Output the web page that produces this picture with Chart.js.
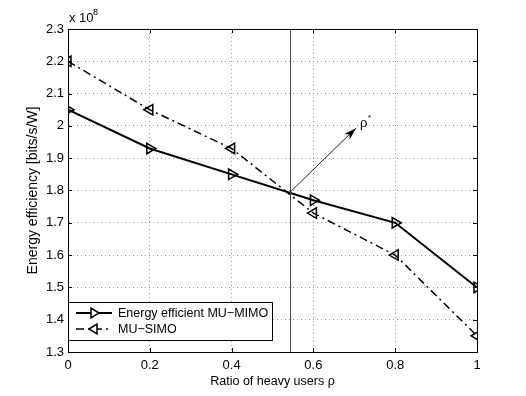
<!DOCTYPE html>
<html>
<head>
<meta charset="utf-8">
<script src="https://cdn.jsdelivr.net/npm/chart.js@4/dist/chart.umd.min.js"></script>
<style>
  html, body { margin: 0; padding: 0; background: #fff; }
  #wrap { width: 526px; height: 396px; position: relative; }
  canvas { display: block; }
</style>
</head>
<body>
<div id="wrap"><canvas id="c" width="526" height="396"></canvas></div>
<script>
// ratio of heavy users
const ratios = [0, 0.2, 0.4, 0.6, 0.8, 1];
// energy efficiency, units of 1e8 bits/s/W
const muMimo = [2.05, 1.93, 1.85, 1.77, 1.70, 1.50];
const muSimo = [2.20, 2.05, 1.93, 1.73, 1.60, 1.35];
const xTicks = [0, 0.2, 0.4, 0.6, 0.8, 1];
const yTicks = [1.3, 1.4, 1.5, 1.6, 1.7, 1.8, 1.9, 2, 2.1, 2.2, 2.3];
// crossing point and arrow
const rhoStar = 0.543;
const arrowFrom = { x: 0.543, y: 1.795 };
const arrowTo = { x: 0.704, y: 1.993 };

const FONT = '"Liberation Sans", Arial, Helvetica, sans-serif';

function fmt(v) {
  return String(Math.round(v * 10) / 10);
}

// box, inner ticks, rho* line and arrow, legend, exponent label
const decor = {
  id: 'decor',
  afterDatasetsDraw(chart) {
    const { ctx, chartArea: a, scales: { x, y } } = chart;
    ctx.save();

    // vertical line at rho*
    const vx = Math.round(x.getPixelForValue(rhoStar)) + 0.5;
    ctx.strokeStyle = '#444';
    ctx.lineWidth = 1;
    ctx.beginPath();
    ctx.moveTo(vx, a.top);
    ctx.lineTo(vx, a.bottom);
    ctx.stroke();

    // arrow
    const x1 = x.getPixelForValue(arrowFrom.x), y1 = y.getPixelForValue(arrowFrom.y);
    const x2 = x.getPixelForValue(arrowTo.x), y2 = y.getPixelForValue(arrowTo.y);
    ctx.strokeStyle = '#222';
    ctx.beginPath();
    ctx.moveTo(x1, y1);
    ctx.lineTo(x2, y2);
    ctx.stroke();
    const ang = Math.atan2(y2 - y1, x2 - x1);
    ctx.fillStyle = '#000';
    ctx.beginPath();
    ctx.moveTo(x2, y2);
    ctx.lineTo(x2 - 13 * Math.cos(ang - 0.3), y2 - 13 * Math.sin(ang - 0.3));
    ctx.lineTo(x2 - 9 * Math.cos(ang), y2 - 9 * Math.sin(ang));
    ctx.lineTo(x2 - 13 * Math.cos(ang + 0.3), y2 - 13 * Math.sin(ang + 0.3));
    ctx.closePath();
    ctx.fill();

    // rho* label
    ctx.fillStyle = '#000';
    ctx.font = '13px ' + FONT;
    ctx.textBaseline = 'alphabetic';
    ctx.textAlign = 'left';
    ctx.fillText('ρ', x2 + 4, y2 - 1);
    ctx.font = '8px ' + FONT;
    ctx.fillText('*', x2 + 12, y2 - 8);

    // inner tick marks
    ctx.strokeStyle = '#000';
    ctx.lineWidth = 1;
    ctx.beginPath();
    xTicks.forEach(v => {
      const px = Math.round(x.getPixelForValue(v)) + 0.5;
      ctx.moveTo(px, a.bottom); ctx.lineTo(px, a.bottom - 4);
      ctx.moveTo(px, a.top); ctx.lineTo(px, a.top + 4);
    });
    yTicks.forEach(v => {
      const py = Math.round(y.getPixelForValue(v)) + 0.5;
      ctx.moveTo(a.left, py); ctx.lineTo(a.left + 4, py);
      ctx.moveTo(a.right, py); ctx.lineTo(a.right - 4, py);
    });
    ctx.stroke();

    // box
    ctx.lineWidth = 1;
    ctx.strokeRect(Math.round(a.left) + 0.5, Math.round(a.top) + 0.5,
      Math.round(a.right - a.left), Math.round(a.bottom - a.top));

    // exponent
    ctx.font = '13px ' + FONT;
    ctx.fillText('x 10', a.left + 1, a.top - 7);
    ctx.font = '9px ' + FONT;
    ctx.fillText('8', a.left + 25, a.top - 14);

    // legend
    const lx = a.left, ly = 302, lw = 204, lh = 38;
    ctx.fillStyle = '#fff';
    ctx.fillRect(lx, ly, lw, lh);
    ctx.strokeStyle = '#000';
    ctx.strokeRect(lx + 0.5, ly + 0.5, lw, lh);
    const rows = [
      { text: 'Energy efficient MU\u2212MIMO', ds: chart.data.datasets[0], ry: ly + 11 },
      { text: 'MU\u2212SIMO', ds: chart.data.datasets[1], ry: ly + 27 }
    ];
    rows.forEach(r => {
      ctx.save();
      ctx.strokeStyle = '#000';
      ctx.lineWidth = r.ds.borderWidth;
      ctx.setLineDash(r.ds.borderDash || []);
      ctx.beginPath();
      ctx.moveTo(lx + 8, r.ry);
      ctx.lineTo(lx + 44, r.ry);
      ctx.stroke();
      ctx.setLineDash([]);
      ctx.lineWidth = 1.5;
      const cx = lx + 26, s = 5;
      ctx.beginPath();
      if (r.ds.pointRotation === 90) {
        ctx.moveTo(cx + s, r.ry); ctx.lineTo(cx - s * 0.6, r.ry - s); ctx.lineTo(cx - s * 0.6, r.ry + s);
      } else {
        ctx.moveTo(cx - s, r.ry); ctx.lineTo(cx + s * 0.6, r.ry - s); ctx.lineTo(cx + s * 0.6, r.ry + s);
      }
      ctx.closePath();
      ctx.fillStyle = '#fff';
      ctx.fill();
      ctx.stroke();
      ctx.fillStyle = '#000';
      ctx.font = '12.5px ' + FONT;
      ctx.textBaseline = 'middle';
      ctx.fillText(r.text, lx + 50, r.ry + 1);
      ctx.restore();
    });

    ctx.restore();
  }
};

new Chart(document.getElementById('c'), {
  type: 'line',
  data: {
    datasets: [
      {
        label: 'Energy efficient MU\u2212MIMO',
        data: ratios.map((r, i) => ({ x: r, y: muMimo[i] })),
        borderColor: '#000',
        borderWidth: 2,
        pointStyle: 'triangle',
        pointRotation: 90,
        pointRadius: 6,
        pointBorderWidth: 1.5,
        pointBorderColor: '#000',
        pointBackgroundColor: 'rgba(0,0,0,0)',
        tension: 0
      },
      {
        label: 'MU\u2212SIMO',
        data: ratios.map((r, i) => ({ x: r, y: muSimo[i] })),
        borderColor: '#000',
        borderWidth: 1.5,
        borderDash: [8, 4, 2, 4],
        pointStyle: 'triangle',
        pointRotation: -90,
        pointRadius: 6,
        pointBorderWidth: 1.5,
        pointBorderColor: '#000',
        pointBackgroundColor: 'rgba(0,0,0,0)',
        tension: 0
      }
    ]
  },
  options: {
    responsive: false,
    animation: false,
    devicePixelRatio: 1,
    layout: { padding: { top: 29, right: 49, left: 0, bottom: 0 } },
    plugins: {
      legend: { display: false },
      tooltip: { enabled: false }
    },
    scales: {
      x: {
        type: 'linear',
        min: 0,
        max: 1,
        afterFit: s => { s.height = 44; },
        afterBuildTicks: s => { s.ticks = xTicks.map(v => ({ value: v })); },
        grid: { color: '#999', lineWidth: 1, drawTicks: false },
        border: { display: true, color: '#000', dash: [1, 3] },
        ticks: {
          color: '#000',
          font: { family: FONT, size: 13 },
          padding: 6,
          maxRotation: 0,
          autoSkip: false,
          callback: v => fmt(v)
        },
        title: {
          display: true,
          text: 'Ratio of heavy users ρ',
          color: '#000',
          font: { family: FONT, size: 12.5 },
          padding: { top: 0, bottom: 7 }
        }
      },
      y: {
        type: 'linear',
        min: 1.3,
        max: 2.3,
        afterFit: s => { s.width = 68; },
        afterBuildTicks: s => { s.ticks = yTicks.map(v => ({ value: v })); },
        grid: { color: '#999', lineWidth: 1, drawTicks: false },
        border: { display: true, color: '#000', dash: [1, 3] },
        ticks: {
          color: '#000',
          font: { family: FONT, size: 13 },
          padding: 4,
          autoSkip: false,
          callback: v => fmt(v)
        },
        title: {
          display: true,
          text: 'Energy efficiency [bits/s/W]',
          color: '#000',
          font: { family: FONT, size: 14 },
          padding: { top: 25, bottom: 0 }
        }
      }
    }
  },
  plugins: [decor]
});
</script>
</body>
</html>
